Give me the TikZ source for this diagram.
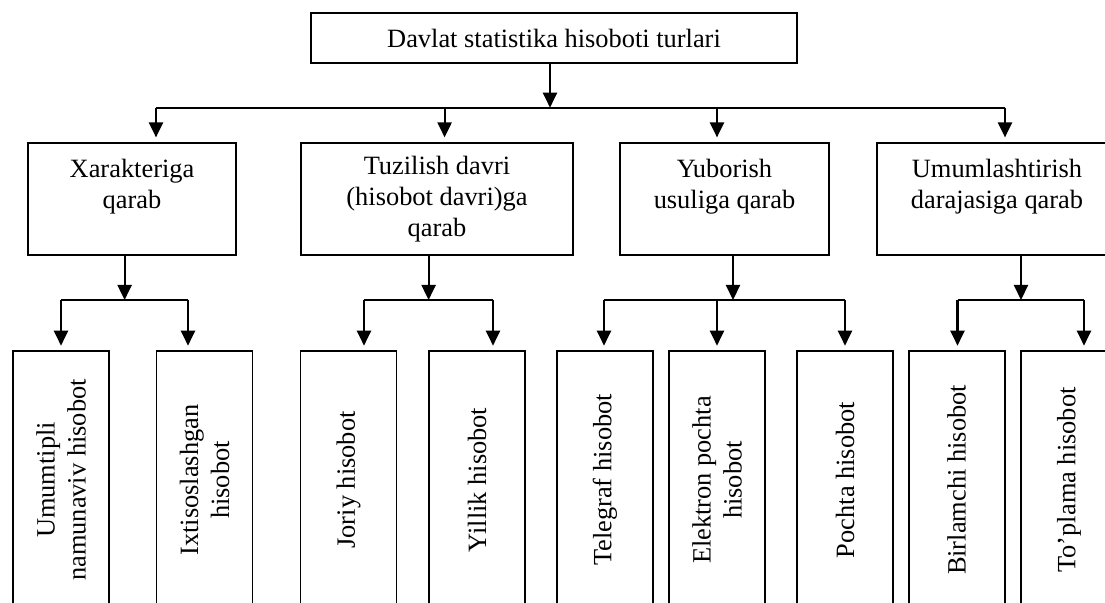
\documentclass[tikz,border=0pt]{standalone}
\usepackage{fontspec}
\setmainfont{Liberation Serif}
\usetikzlibrary{arrows.meta}

\tikzset{
  box/.style={draw, line width=0.9pt, align=center, inner sep=0pt,
    font=\fontsize{13.2}{15.5}\selectfont},
  topbox/.style={box, minimum width=243pt, minimum height=25pt},
  kindbox/.style={box, minimum height=56pt},
  leafbox/.style={box, rotate=90, minimum width=129pt, minimum height=48pt},
  bus/.style={line width=1.1pt},
  arr/.style={bus, -{Triangle[width=7pt,length=7.5pt]}}
}

\begin{document}
\begin{tikzpicture}[x=0.5pt, y=-0.5pt]
    \useasboundingbox (0,0) rectangle (1105,603);
    \clip (0,0) rectangle (1105,603);

    \node[topbox] (top) at (554,38.3) {Davlat statistika hisoboti turlari};

    % second level
    \node[kindbox, minimum width=104pt] (xar) at (132,199.3) {Xarakteriga\\ qarab\\ ~};
    \node[kindbox, minimum width=136pt] (tuz) at (437,199.3) {Tuzilish davri\\ (hisobot davri)ga\\ qarab};
    \node[kindbox, minimum width=104.5pt] (yub) at (724.5,199.3) {Yuborish\\ usuliga qarab\\ ~};
    \node[kindbox, minimum width=120pt] (umu) at (997,199.3) {Umumlashtirish\\ darajasiga qarab\\ ~};

    % third level (rotated, so .east is the top side)
    \node[leafbox] (umumtipli) at (61,480) {Umumtipli\\ namunaviv hisobot};
    \node[leafbox] (ixtisos) at (204.5,480) {Ixtisoslashgan\\ hisobot};
    \node[leafbox] (joriy) at (348.5,480) {Joriy hisobot};
    \node[leafbox] (yillik) at (477,480) {Yillik hisobot};
    \node[leafbox] (telegraf) at (605,480) {Telegraf hisobot};
    \node[leafbox] (elektron) at (717,480) {Elektron pochta\\ hisobot};
    \node[leafbox] (pochta) at (845,480) {Pochta hisobot};
    \node[leafbox] (birlamchi) at (956.6,480) {Birlamchi hisobot};
    \node[leafbox] (toplama) at (1069,480) {Toʼplama hisobot};

    % top bus
    \coordinate (hub) at (550,107.7);
    \coordinate (s1) at (156,107.7);
    \coordinate (s2) at (444.6,107.7);
    \coordinate (s3) at (717,107.7);
    \coordinate (s4) at (1005,107.7);
    \draw[arr] (top.south -| hub) -- (hub);
    \draw[bus] (s1) -- (s4);
    \foreach \s/\k in {s1/xar, s2/tuz, s3/yub, s4/umu}
        \draw[arr, shorten >=2.5pt] (\s) -- (\s |- \k.north);

    % lower buses
    \coordinate (xarhub) at (124.6,300);
    \coordinate (tuzhub) at (428.6,300);
    \coordinate (yubhub) at (733,300);
    \coordinate (umuhub) at (1021,300);
    \foreach \k in {xar, tuz, yub, umu}
        \draw[arr] (\k.south -| \k hub) -- (\k hub);

    \foreach \x/\n in {61/umumtipli, 188/ixtisos, 364/joriy, 493/yillik,
        604/telegraf, 717/elektron, 845/pochta, 957.5/birlamchi, 1084/toplama}
        \coordinate (t\n) at (\x,300);
    \draw[bus] (tumumtipli) -- (tixtisos);
    \draw[bus] (tjoriy) -- (tyillik);
    \draw[bus] (ttelegraf) -- (tpochta);
    \draw[bus] (tbirlamchi) -- (ttoplama);
    \foreach \n in {umumtipli, ixtisos, joriy, yillik, telegraf, elektron,
        pochta, birlamchi, toplama}
        \draw[arr, shorten >=2.2pt] (t\n) -- (t\n |- \n.east);
\end{tikzpicture}
\end{document}
